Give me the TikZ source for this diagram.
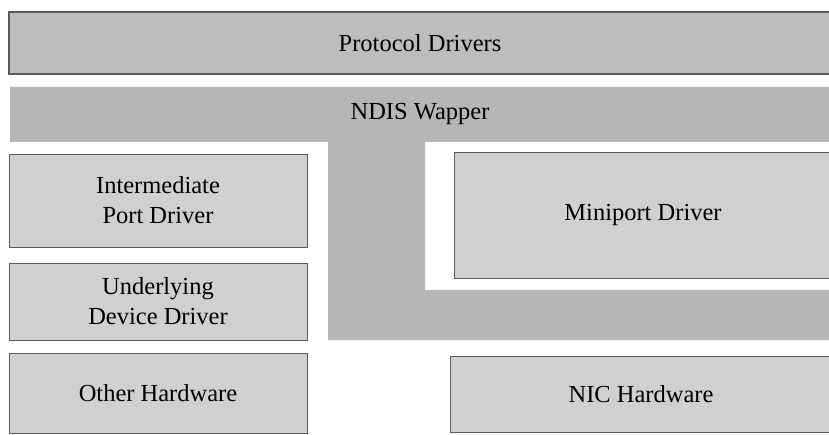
\documentclass[tikz,border=0pt]{standalone}
\usepackage{fontspec}
\setmainfont{Liberation Serif}
\definecolor{layergray}{HTML}{BDBDBD}
\definecolor{wrapgray}{HTML}{B6B6B6}
\definecolor{boxgray}{HTML}{D0D0D0}
\definecolor{edgegray}{HTML}{5A5A5A}
\begin{document}
\begin{tikzpicture}[x=1pt,y=-1pt,
  label text/.style={font=\fontsize{24.5}{30}\selectfont, text=black, align=center},
  layerbox/.style={label text, draw=edgegray, line width=1.1pt, fill=layergray, inner sep=0pt},
  drvbox/.style={label text, draw=edgegray, line width=0.8pt, fill=boxgray, inner sep=0pt},
  wrapper/.style={fill=wrapgray}]
\useasboundingbox (0,0) rectangle (829,435);
\clip (0,0) rectangle (829,435);
\fill[white] (0,0) rectangle (829,435);

% protocol layer across the top
\node[layerbox, minimum width=822pt, minimum height=62pt] (proto) at (420,43) {Protocol Drivers};

% NDIS wrapper: top band, middle column and lower band around the miniport driver
\fill[wrapper] (10,87) -- (832,87) -- (832,142) -- (425,142) -- (425,290)
  -- (832,290) -- (832,340) -- (328,340) -- (328,142) -- (10,142) -- cycle;
\node[label text] (ndis) at (420,114) {NDIS Wapper};

% left stack
\node[drvbox, minimum width=298pt, minimum height=93pt] (inter) at (158,200.5) {Intermediate\\Port Driver};
\node[drvbox, minimum width=298pt, minimum height=77pt] (under) at (158,301.5) {Underlying\\Device Driver};
\node[drvbox, minimum width=298pt, minimum height=80pt] (other) at (158,393) {Other Hardware};

% right stack
\node[drvbox, minimum width=378pt, minimum height=126pt] (mini) at (643,215) {Miniport Driver};
\node[drvbox, minimum width=382pt, minimum height=76pt] (nic) at (641,394) {NIC Hardware};
\end{tikzpicture}
\end{document}
